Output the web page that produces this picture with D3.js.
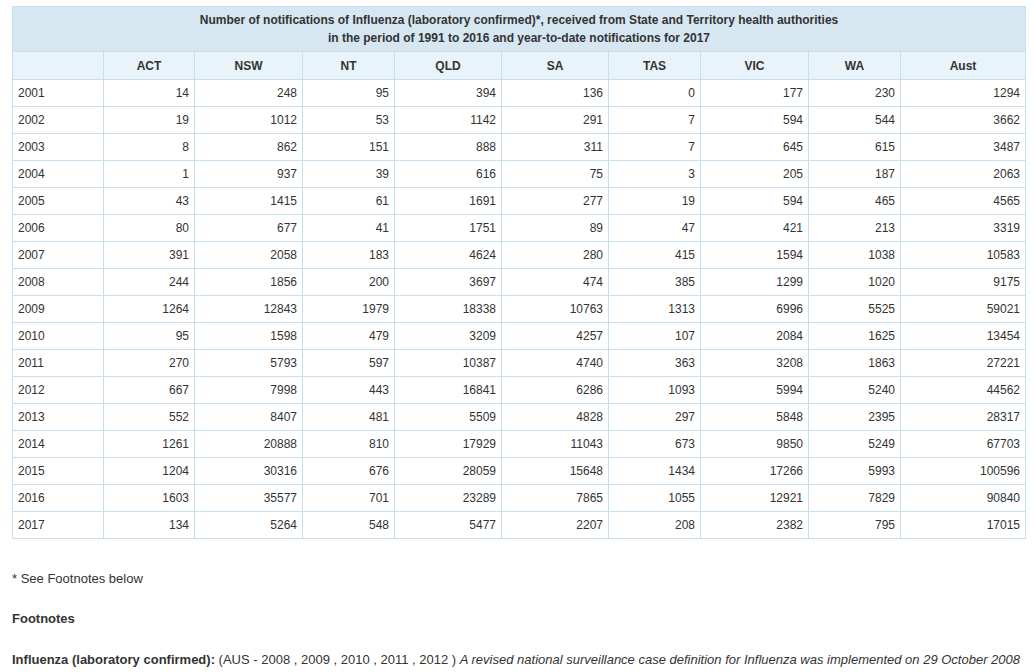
<!DOCTYPE html>
<html>
<head>
<meta charset="utf-8">
<script src="https://cdn.jsdelivr.net/npm/d3@7"></script>
<style>
body { margin: 0; background: #fff; font-family: "Liberation Sans", Arial, sans-serif; color: #333; }
#wrap { position: absolute; left: 12px; top: 6px; }
table { border-collapse: collapse; table-layout: fixed; font-size: 12px; }
td, th { border: 1px solid #c6dfee; padding: 0 5px; height: 26px; box-sizing: border-box; }
th.title { background: #d6e7f2; height: 45px; font-weight: bold; text-align: center; line-height: 18px; border-bottom-color: #d3dde4; }
th.head { background: #e9f3fa; height: 28px; font-weight: bold; text-align: center; }
td { text-align: right; height: 27px; }
td.year { text-align: left; }
.note { position: absolute; left: 12px; font-size: 13px; color: #333; }
</style>
</head>
<body>
<div id="wrap"></div>
<script>
// table data
var years = [2001, 2002, 2003, 2004, 2005, 2006, 2007, 2008, 2009, 2010, 2011, 2012, 2013, 2014, 2015, 2016, 2017];
var regions = ["ACT", "NSW", "NT", "QLD", "SA", "TAS", "VIC", "WA", "Aust"];

var act  = [14, 19, 8, 1, 43, 80, 391, 244, 1264, 95, 270, 667, 552, 1261, 1204, 1603, 134];
var nsw  = [248, 1012, 862, 937, 1415, 677, 2058, 1856, 12843, 1598, 5793, 7998, 8407, 20888, 30316, 35577, 5264];
var nt   = [95, 53, 151, 39, 61, 41, 183, 200, 1979, 479, 597, 443, 481, 810, 676, 701, 548];
var qld  = [394, 1142, 888, 616, 1691, 1751, 4624, 3697, 18338, 3209, 10387, 16841, 5509, 17929, 28059, 23289, 5477];
var sa   = [136, 291, 311, 75, 277, 89, 280, 474, 10763, 4257, 4740, 6286, 4828, 11043, 15648, 7865, 2207];
var tas  = [0, 7, 7, 3, 19, 47, 415, 385, 1313, 107, 363, 1093, 297, 673, 1434, 1055, 208];
var vic  = [177, 594, 645, 205, 594, 421, 1594, 1299, 6996, 2084, 3208, 5994, 5848, 9850, 17266, 12921, 2382];
var wa   = [230, 544, 615, 187, 465, 213, 1038, 1020, 5525, 1625, 1863, 5240, 2395, 5249, 5993, 7829, 795];
var aust = [1294, 3662, 3487, 2063, 4565, 3319, 10583, 9175, 59021, 13454, 27221, 44562, 28317, 67703, 100596, 90840, 17015];

var series = [act, nsw, nt, qld, sa, tas, vic, wa, aust];

var titleLines = [
    "Number of notifications of Influenza (laboratory confirmed)*, received from State and Territory health authorities",
    "in the period of 1991 to 2016 and year-to-date notifications for 2017"
];

// column widths (layout only)
var colWidths = [91, 91, 108, 92, 107, 107, 92, 108, 92, 125];

var table = d3.select("#wrap").append("table")
    .style("width", d3.sum(colWidths) + "px");

table.append("colgroup").selectAll("col")
    .data(colWidths)
    .enter()
    .append("col")
    .style("width", d => d + "px");

var thead = table.append("thead");

thead.append("tr").append("th")
    .attr("class", "title")
    .attr("colspan", regions.length + 1)
    .html(titleLines.join("<br>"));

thead.append("tr").selectAll("th")
    .data([""].concat(regions))
    .enter()
    .append("th")
    .attr("class", "head")
    .text(d => d);

// one row per year
var rows = table.append("tbody").selectAll("tr")
    .data(years)
    .enter()
    .append("tr");

rows.selectAll("td")
    .data((y, i) => [{ v: y, year: true }].concat(series.map(s => ({ v: s[i] }))))
    .enter()
    .append("td")
    .attr("class", d => d.year ? "year" : null)
    .text(d => d.v);

// footnotes below the table
var tableBottom = d3.select("#wrap").node().getBoundingClientRect().bottom;

d3.select("body").append("div")
    .attr("class", "note")
    .style("top", (tableBottom + 32) + "px")
    .text("* See Footnotes below");

d3.select("body").append("div")
    .attr("class", "note")
    .style("top", (tableBottom + 72) + "px")
    .style("font-weight", "bold")
    .text("Footnotes");

var last = d3.select("body").append("div")
    .attr("class", "note")
    .style("top", (tableBottom + 113) + "px")
    .style("white-space", "nowrap");
last.append("b").text("Influenza (laboratory confirmed):");
last.append("span").text(" (AUS - 2008 , 2009 , 2010 , 2011 , 2012 ) ");
last.append("i").text("A revised national surveillance case definition for Influenza was implemented on 29 October 2008");
</script>
</body>
</html>
